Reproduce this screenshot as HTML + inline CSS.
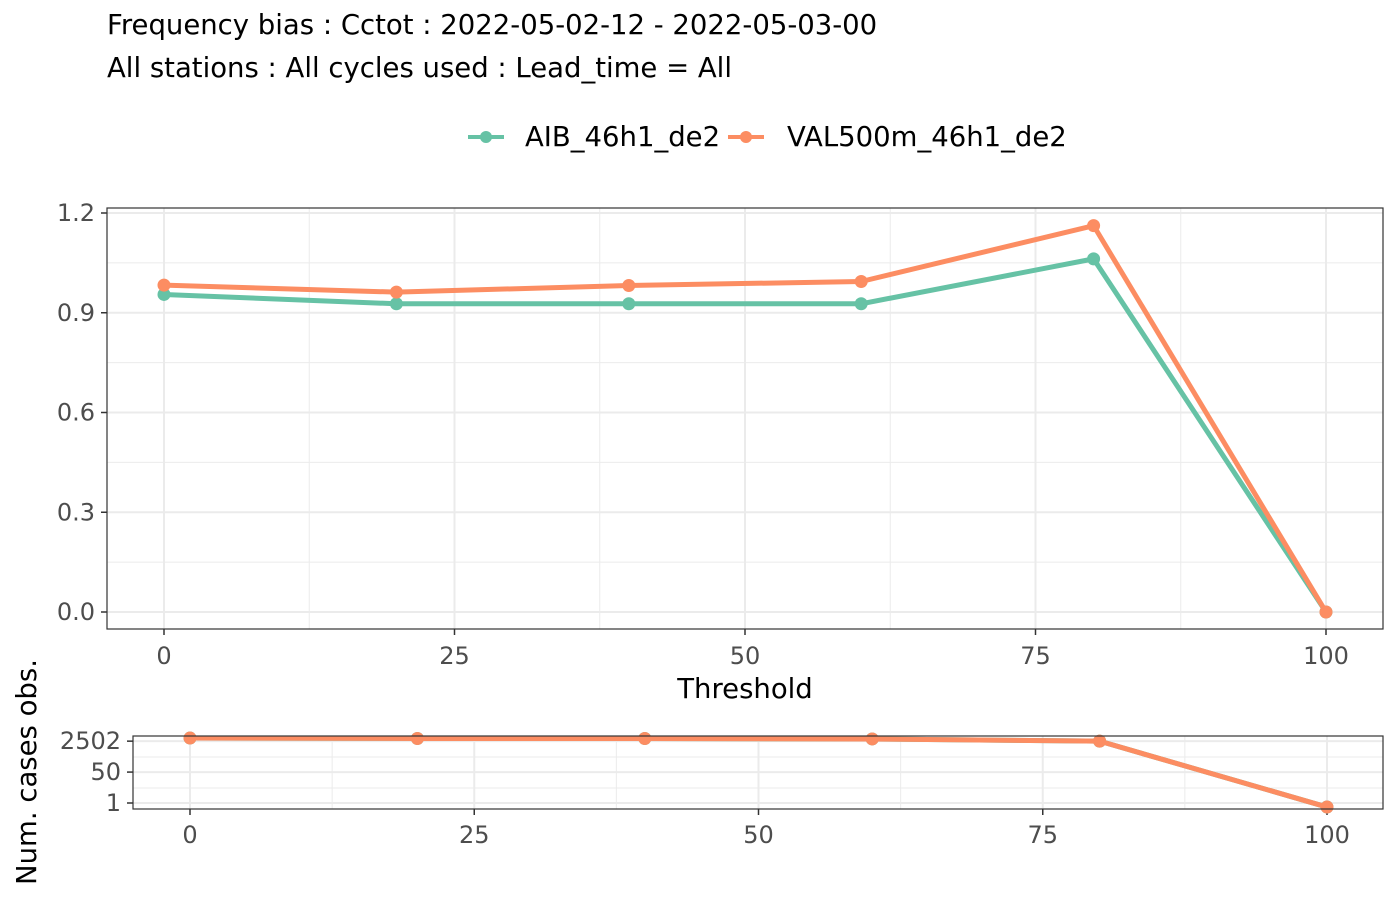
<!DOCTYPE html>
<html><head><meta charset="utf-8"><style>
body{margin:0;background:#fff;font-family:"Liberation Sans","DejaVu Sans",sans-serif;}
svg text{font-family:"DejaVu Sans","Liberation Sans",sans-serif;}
</style></head><body>
<svg width="1400" height="900" xmlns="http://www.w3.org/2000/svg" id="chart">
<text x="107" y="34" font-size="27.5" fill="#000">Frequency bias : Cctot : 2022-05-02-12 - 2022-05-03-00</text>
<text x="107" y="77" font-size="27.5" fill="#000">All stations : All cycles used : Lead_time = All</text>
<g>
<g><line x1="468" y1="137" x2="504" y2="137" stroke="#66c2a5" stroke-width="4"/><circle cx="486" cy="137" r="6" fill="#66c2a5"/><text x="525" y="146" font-size="27.5">AIB_46h1_de2</text></g>
<g><line x1="728" y1="137" x2="764" y2="137" stroke="#fc8d62" stroke-width="4"/><circle cx="746" cy="137" r="6" fill="#fc8d62"/><text x="787" y="146" font-size="27.5">VAL500m_46h1_de2</text></g>
</g>
<g id="topPanel"></g>
<g id="botPanel"></g>
<text x="745" y="698" font-size="27.5" text-anchor="middle">Threshold</text>
<text transform="translate(36,772) rotate(-90)" font-size="27.5" text-anchor="middle">Num. cases obs.</text>
</svg>
<script>
const thresholds=[0,20,40,60,80,100];
const aibBias=[0.955,0.927,0.927,0.927,1.062,0.0];
const valBias=[0.983,0.962,0.982,0.994,1.162,0.0];
const numCases=[3700,3500,3500,3300,2502,0.6];
const xTicks=[0,25,50,75,100];
const yTicks=[0,0.3,0.6,0.9,1.2];
const countTicks=[1,50,2502];
const NS="http://www.w3.org/2000/svg";
function mk(p,t,a){const e=document.createElementNS(NS,t);for(const k in a)e.setAttribute(k,a[k]);p.appendChild(e);return e;}
const tp=document.getElementById('topPanel'),bp=document.getElementById('botPanel');
const X=v=>164+v*(1326-164)/100, Y=v=>612-v*332.5;
const X2=v=>190+v*(1327-190)/100, Y2=v=>803-Math.log10(v)*18.2;
mk(tp,'rect',{x:107,y:208,width:1276,height:421,fill:'#fff'});
[0.15,0.45,0.75,1.05].forEach(v=>mk(tp,'line',{x1:107,x2:1383,y1:Y(v),y2:Y(v),stroke:'#ebebeb','stroke-width':1}));
[12.5,37.5,62.5,87.5].forEach(v=>mk(tp,'line',{x1:X(v),x2:X(v),y1:208,y2:629,stroke:'#ebebeb','stroke-width':1}));
yTicks.forEach(v=>{mk(tp,'line',{x1:107,x2:1383,y1:Y(v),y2:Y(v),stroke:'#ebebeb','stroke-width':2});
 mk(tp,'line',{x1:101,x2:107,y1:Y(v),y2:Y(v),stroke:'#333','stroke-width':1.5});
 const t=mk(tp,'text',{x:95,y:Y(v)+8,'font-size':24,'text-anchor':'end',fill:'#4d4d4d'});t.textContent=v.toFixed(1);
 
 });
xTicks.forEach(v=>{mk(tp,'line',{x1:X(v),x2:X(v),y1:208,y2:629,stroke:'#ebebeb','stroke-width':2});
 mk(tp,'line',{x1:X(v),x2:X(v),y1:629,y2:635,stroke:'#333','stroke-width':1.5});
 const t=mk(tp,'text',{x:X(v),y:664,'font-size':24,'text-anchor':'middle',fill:'#4d4d4d'});t.textContent=v;
 
 });
[[aibBias,'#66c2a5','aib'],[valBias,'#fc8d62','val']].forEach(([d,c,n])=>{
 const l=mk(tp,'polyline',{points:thresholds.map((t,i)=>X(t)+','+Y(d[i])).join(' '),fill:'none',stroke:c,'stroke-width':5,'stroke-linejoin':'round'});
 
 
 thresholds.forEach((t,i)=>{const p=mk(tp,'circle',{cx:X(t),cy:Y(d[i]),r:6.5,fill:c});
  
  });
});
mk(tp,'rect',{x:107,y:208,width:1276,height:421,fill:'none',stroke:'#333','stroke-width':1.2});
[757,788].forEach(y=>mk(bp,'line',{x1:133,x2:1383,y1:y,y2:y,stroke:'#ebebeb','stroke-width':1}));
[12.5,37.5,62.5,87.5].forEach(v=>mk(bp,'line',{x1:X2(v),x2:X2(v),y1:736,y2:809,stroke:'#ebebeb','stroke-width':1}));
countTicks.forEach(v=>{mk(bp,'line',{x1:133,x2:1383,y1:Y2(v),y2:Y2(v),stroke:'#ebebeb','stroke-width':2});
 mk(bp,'line',{x1:127,x2:133,y1:Y2(v),y2:Y2(v),stroke:'#333','stroke-width':1.5});
 const t=mk(bp,'text',{x:121,y:Y2(v)+8,'font-size':24,'text-anchor':'end',fill:'#4d4d4d'});t.textContent=v;
 
 });
xTicks.forEach(v=>{mk(bp,'line',{x1:X2(v),x2:X2(v),y1:736,y2:809,stroke:'#ebebeb','stroke-width':2});
 mk(bp,'line',{x1:X2(v),x2:X2(v),y1:809,y2:815,stroke:'#333','stroke-width':1.5});
 const t=mk(bp,'text',{x:X2(v),y:843,'font-size':24,'text-anchor':'middle',fill:'#4d4d4d'});t.textContent=v;
 
 });
['#66c2a5','#fc8d62'].forEach(c=>{
 const l=mk(bp,'polyline',{points:thresholds.map((t,i)=>X2(t)+','+Y2(numCases[i])).join(' '),fill:'none',stroke:c,'stroke-width':5});
 
 
 thresholds.forEach((t,i)=>{const p=mk(bp,'circle',{cx:X2(t),cy:Y2(numCases[i]),r:6.5,fill:c});
  
  });
});
mk(bp,'rect',{x:133,y:736,width:1250,height:73,fill:'none',stroke:'#333','stroke-width':1.2});
</script>
</body></html>
